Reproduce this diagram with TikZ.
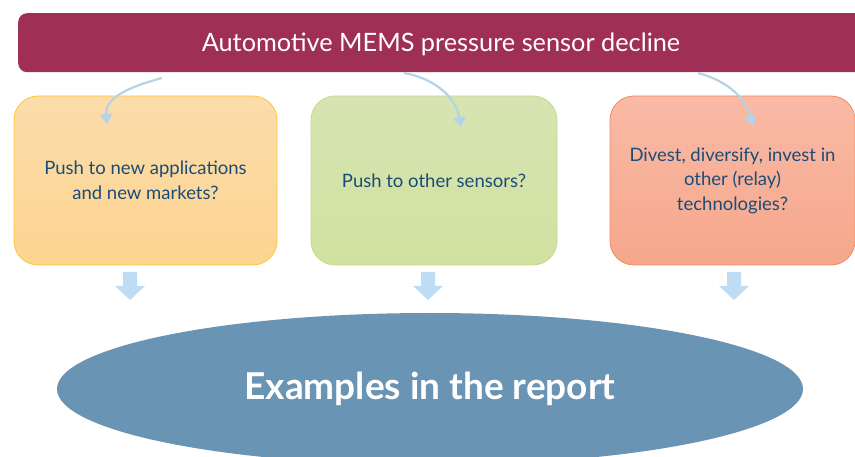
\documentclass[tikz,border=0pt]{standalone}
\usepackage{fontspec}
\setmainfont{Lato}
\usetikzlibrary{arrows.meta,shapes.geometric}

\definecolor{bannerred}{HTML}{A02F56}
\definecolor{boxtext}{HTML}{1B4C78}
\definecolor{arrowblue}{HTML}{B5D3E8}
\definecolor{blockblue}{HTML}{BEDDF5}
\definecolor{ovalblue}{HTML}{6A94B4}

\tikzset{
  choice/.style={draw, line width=0.8pt, rounded corners=24pt, minimum height=169pt,
    align=center, text=boxtext, font=\fontsize{18.5}{24.5}\selectfont, inner sep=4pt},
  bend arrow/.style={arrowblue, line width=2.2pt, -{Triangle[length=10pt,width=13pt]}}
}

\begin{document}
\begin{tikzpicture}[x=1pt,y=-1pt]
  \useasboundingbox (0,0) rectangle (855,457);
  \clip (0,0) rectangle (855,457);

  % Banner
  \node[fill=bannerred, rounded corners=9pt, minimum width=860pt, minimum height=59pt,
    anchor=north west] (banner) at (18,13) {};
  \node[text=white, font=\fontsize{25.3}{30}\selectfont] (title) at (441,44)
    {Automotive MEMS pressure sensor decline};

  % Three options
  \node[choice, minimum width=263pt, draw=orange!55!yellow!80!white,
    top color={rgb,255:red,252;green,220;blue,170}, bottom color={rgb,255:red,253;green,213;blue,145}]
    (apps) at (145.5,180.5) {Push to new applications\\and new markets?};
  \node[choice, minimum width=246pt, draw={rgb,255:red,196;green,218;blue,140},
    top color={rgb,255:red,215;green,228;blue,178}, bottom color={rgb,255:red,208;green,226;blue,160}]
    (sensors) at (434,180.5) {Push to other sensors?};
  \node[choice, minimum width=245pt, draw={rgb,255:red,242;green,138;blue,94},
    top color={rgb,255:red,249;green,186;blue,166}, bottom color={rgb,255:red,246;green,167;blue,139}]
    (divest) at (732.5,180.5) {Divest, diversify, invest in\\other (relay)\\technologies?};

  % Curved arrows from the banner
  \coordinate (s1) at (162,78);
  \coordinate (e1) at (107,124);
  \coordinate (s2) at (404,73);
  \coordinate (e2) at (461,127);
  \coordinate (s3) at (698,73);
  \coordinate (e3) at (753,126);
  \draw[bend arrow] (s1) to[out=195,in=95] (e1);
  \draw[bend arrow] (s2) to[out=-10,in=100] (e2);
  \draw[bend arrow] (s3) to[out=-15,in=105] (e3);

  % Block arrows down
  \foreach \n/\x in {apps/130,sensors/428,divest/734}
    \fill[blockblue] (\x-7,272) -- (\x+7,272) -- (\x+7,286) -- (\x+15,286)
      -- (\x,300) -- (\x-15,286) -- (\x-7,286) -- cycle;

  % Report
  \node[ellipse, fill=ovalblue, minimum width=746pt, minimum height=152pt, text=white,
    font=\bfseries\fontsize{37}{42}\selectfont] (report) at (430,389) {Examples in the report};
\end{tikzpicture}
\end{document}
